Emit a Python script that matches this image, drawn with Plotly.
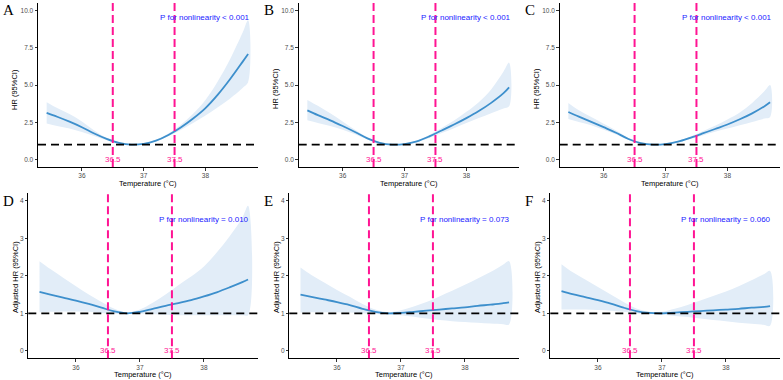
import plotly.graph_objects as go

# ---------------- data ----------------
temperature = [35.43, 35.6, 35.8, 36.0, 36.2, 36.4, 36.6, 36.8, 37.0, 37.2,
               37.4, 37.6, 37.8, 38.0, 38.2, 38.4, 38.6, 38.69]

hr_A = [3.13, 2.87, 2.54, 2.17, 1.75, 1.39, 1.12, 1.00, 1.05, 1.27,
        1.65, 2.15, 2.75, 3.45, 4.35, 5.40, 6.55, 7.08]
lo_A = [2.42, 2.25, 2.08, 1.85, 1.58, 1.30, 1.08, 0.98, 1.02, 1.22,
        1.56, 1.98, 2.45, 2.95, 3.50, 4.10, 4.80, 5.20]
hi_A = [3.84, 3.45, 3.05, 2.55, 1.95, 1.46, 1.16, 1.02, 1.08, 1.32,
        1.74, 2.33, 3.08, 4.00, 5.25, 6.75, 8.50, 9.35]

hr_B = [3.30, 2.98, 2.63, 2.25, 1.85, 1.42, 1.12, 1.00, 1.04, 1.22,
        1.55, 1.95, 2.35, 2.78, 3.25, 3.80, 4.45, 4.84]
lo_B = [2.63, 2.45, 2.25, 2.00, 1.70, 1.35, 1.08, 0.98, 1.01, 1.17,
        1.45, 1.78, 2.10, 2.45, 2.78, 3.10, 3.42, 3.57]
hi_B = [4.00, 3.60, 3.10, 2.55, 2.00, 1.50, 1.16, 1.02, 1.07, 1.27,
        1.65, 2.12, 2.62, 3.20, 3.85, 4.70, 5.90, 6.50]

hr_C = [3.19, 2.88, 2.53, 2.17, 1.80, 1.38, 1.10, 1.00, 1.04, 1.20,
        1.46, 1.75, 2.05, 2.35, 2.70, 3.10, 3.58, 3.84]
lo_C = [2.72, 2.52, 2.30, 2.00, 1.68, 1.32, 1.07, 0.98, 1.01, 1.15,
        1.38, 1.62, 1.86, 2.08, 2.30, 2.52, 2.75, 2.86]
hi_C = [3.80, 3.30, 2.85, 2.40, 1.95, 1.46, 1.14, 1.02, 1.07, 1.25,
        1.55, 1.90, 2.27, 2.68, 3.15, 3.80, 4.60, 5.00]

hr_D = [1.57, 1.50, 1.42, 1.34, 1.25, 1.15, 1.05, 1.00, 1.04, 1.12,
        1.20, 1.27, 1.35, 1.45, 1.56, 1.69, 1.83, 1.90]
lo_D = [1.03, 1.04, 1.05, 1.05, 1.04, 1.01, 0.99, 0.98, 0.99, 0.98,
        0.96, 0.95, 0.95, 0.95, 0.95, 0.95, 0.95, 0.95]
hi_D = [2.39, 2.18, 1.95, 1.72, 1.50, 1.30, 1.12, 1.02, 1.10, 1.28,
        1.50, 1.75, 1.98, 2.25, 2.62, 3.05, 3.55, 3.87]

hr_E = [1.50, 1.44, 1.37, 1.30, 1.22, 1.12, 1.04, 1.00, 1.01, 1.04,
        1.07, 1.10, 1.13, 1.16, 1.20, 1.23, 1.27, 1.29]
lo_E = [1.02, 1.03, 1.03, 1.03, 1.02, 1.00, 0.98, 0.97, 0.95, 0.91,
        0.86, 0.82, 0.79, 0.77, 0.75, 0.73, 0.71, 0.70]
hi_E = [2.22, 2.02, 1.82, 1.62, 1.44, 1.25, 1.10, 1.03, 1.08, 1.18,
        1.30, 1.45, 1.60, 1.76, 1.93, 2.10, 2.30, 2.39]

hr_F = [1.59, 1.51, 1.43, 1.35, 1.26, 1.15, 1.06, 1.01, 1.00, 1.02,
        1.04, 1.06, 1.08, 1.10, 1.12, 1.15, 1.17, 1.19]
lo_F = [1.10, 1.10, 1.10, 1.09, 1.07, 1.04, 1.00, 0.98, 0.96, 0.93,
        0.90, 0.86, 0.82, 0.79, 0.75, 0.72, 0.69, 0.67]
hi_F = [2.31, 2.10, 1.90, 1.70, 1.50, 1.30, 1.13, 1.04, 1.04, 1.12,
        1.22, 1.34, 1.46, 1.58, 1.72, 1.88, 2.05, 2.13]

panel_letters = ["A", "B", "C", "D", "E", "F"]
p_texts = ["P for nonlinearity < 0.001", "P for nonlinearity < 0.001",
           "P for nonlinearity < 0.001", "P for nonlinearity = 0.010",
           "P for nonlinearity = 0.073", "P for nonlinearity = 0.060"]
y_titles = ["HR (95%CI)"] * 3 + ["Adjusted HR (95%CI)"] * 3
x_title = "Temperature (°C)"
cutoffs = [36.5, 37.5]
cutoff_labels = ["36.5", "37.5"]
reference_hr = 1

x_tickvals = [36, 37, 38]
x_ticktext = ["36", "37", "38"]
top_y_tickvals = [0, 2.5, 5, 7.5, 10]
top_y_ticktext = ["0.0", "2.5", "5.0", "7.5", "10.0"]
bot_y_tickvals = [0, 1, 2, 3, 4]
bot_y_ticktext = ["0", "1", "2", "3", "4"]

hr_sets = [hr_A, hr_B, hr_C, hr_D, hr_E, hr_F]
lo_sets = [lo_A, lo_B, lo_C, lo_D, lo_E, lo_F]
hi_sets = [hi_A, hi_B, hi_C, hi_D, hi_E, hi_F]

# ---------------- layout geometry ----------------
W, H = 783, 380
# plot areas in pixels: (left, right, top, bottom)
areas = [(38, 258, 3, 167), (298.7, 519, 3, 167), (559.7, 780, 3, 167),
         (28.3, 258.3, 193.3, 358.3), (289.3, 519.3, 193.3, 358.3), (550.3, 780.3, 193.3, 358.3)]
x_ranges = [[35.29, 38.85]] * 3 + [[35.255, 38.85]] * 3
y_ranges = [[-0.5, 10.5]] * 3 + [[-0.2, 4.2]] * 3
p_text_y = [9.5] * 3 + [3.5] * 3

LINE_COLOR = "#3D8FCC"
FILL_COLOR = "#E2EDF8"
PINK = "#FF1493"
FONT = "Liberation Sans"

fig = go.Figure()
annotations = []
shapes = []

for i in range(6):
    n = "" if i == 0 else str(i + 1)
    xa, ya = "x" + n, "y" + n
    l, r, t, b = areas[i]
    dx = [l / W, r / W]
    dy = [1 - b / H, 1 - t / H]

    # ribbon
    fig.add_trace(go.Scatter(
        x=temperature + temperature[::-1],
        y=hi_sets[i] + lo_sets[i][::-1],
        fill="toself", fillcolor=FILL_COLOR, line=dict(width=0),
        mode="lines", line_shape="spline", hoverinfo="skip",
        showlegend=False, xaxis=xa, yaxis=ya))
    # curve
    fig.add_trace(go.Scatter(
        x=temperature, y=hr_sets[i], mode="lines",
        line=dict(color=LINE_COLOR, width=1.8, shape="spline"),
        showlegend=False, xaxis=xa, yaxis=ya))

    top_row = i < 3
    fig.layout["xaxis" + n] = dict(
        domain=dx, range=x_ranges[i], anchor=ya,
        tickvals=x_tickvals, ticktext=x_ticktext,
        showline=True, linecolor="black", linewidth=1,
        ticks="outside", ticklen=2.5, tickcolor="#333333", tickwidth=1,
        tickfont=dict(family=FONT, size=6.5, color="#4D4D4D"),
        showgrid=False, zeroline=False)
    fig.layout["yaxis" + n] = dict(
        domain=dy, range=y_ranges[i], anchor=xa,
        tickvals=top_y_tickvals if top_row else bot_y_tickvals,
        ticktext=top_y_ticktext if top_row else bot_y_ticktext,
        showline=True, linecolor="black", linewidth=1,
        ticks="outside", ticklen=2.5, tickcolor="#333333", tickwidth=1,
        tickfont=dict(family=FONT, size=6.5, color="#4D4D4D"),
        showgrid=False, zeroline=False)

    # reference line HR = 1
    shapes.append(dict(type="line", xref=xa + " domain", yref=ya,
                       x0=0, x1=1, y0=reference_hr, y1=reference_hr,
                       line=dict(color="black", width=1.8, dash="8px,5px")))
    # cutoff lines and labels
    for c, lab in zip(cutoffs, cutoff_labels):
        shapes.append(dict(type="line", xref=xa, yref=ya + " domain",
                           x0=c, x1=c, y0=0, y1=1,
                           line=dict(color=PINK, width=2, dash="8px,4px")))
        annotations.append(dict(x=c, y=0, xref=xa, yref=ya, text=lab,
                                showarrow=False, xanchor="center", yanchor="middle",
                                font=dict(family=FONT, size=8, color=PINK)))
    # p text
    annotations.append(dict(x=38.0, y=p_text_y[i], xref=xa, yref=ya, text=p_texts[i],
                            showarrow=False, xanchor="center", yanchor="middle",
                            font=dict(family=FONT, size=8, color="#1A1AFF")))
    # panel letter
    col = i % 3
    letter_y = 10 if top_row else 200.5
    annotations.append(dict(x=(col * 261 + 1) / W, y=1 - letter_y / H, xref="paper", yref="paper",
                            text=panel_letters[i], showarrow=False, xanchor="left", yanchor="middle",
                            font=dict(family="Liberation Serif", size=15, color="black")))
    # axis titles
    annotations.append(dict(x=(l + r) / 2 / W, y=1 - (183.5 if top_row else 374) / H,
                            xref="paper", yref="paper", text=x_title, showarrow=False,
                            xanchor="center", yanchor="middle",
                            font=dict(family=FONT, size=7.5, color="black")))
    annotations.append(dict(x=(col * 261 + 15) / W, y=1 - (89 if top_row else 277) / H,
                            xref="paper", yref="paper", text=y_titles[i], showarrow=False,
                            textangle=-90, xanchor="center", yanchor="middle",
                            font=dict(family=FONT, size=7.5, color="black")))

fig.update_layout(
    width=W, height=H, margin=dict(l=0, r=0, t=0, b=0),
    paper_bgcolor="white", plot_bgcolor="white",
    annotations=annotations, shapes=shapes, showlegend=False)

fig.write_html("out.html", config={"displayModeBar": False},
               post_script="document.body.style.margin='0';document.body.style.overflow='hidden';")
